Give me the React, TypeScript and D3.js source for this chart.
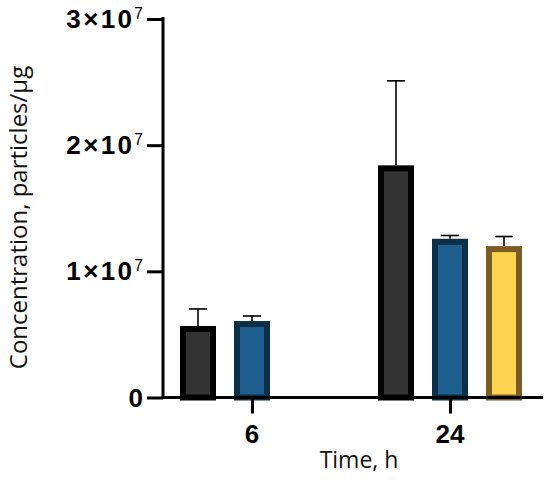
import * as d3 from "d3";
import { useEffect, useRef } from "react";

// time points (h)
const times = ["6", "24"];
const series = ["black", "blue", "yellow"];

// mean concentration, particles/µg (null = not measured)
const meanBlack = [5.67e6, 1.84e7];
const meanBlue = [6.06e6, 1.258e7];
const meanYellow: (number | null)[] = [null, 1.2e7];

// upper error (SD)
const sdBlack = [1.35e6, 6.7e6];
const sdBlue = [0.4e6, 0.26e6];
const sdYellow: (number | null)[] = [null, 0.76e6];

const yTicks = [0, 1e7, 2e7, 3e7];

const fills = ["#333333", "#1f5f8f", "#fdd352"];
const strokes = ["#000000", "#0b2f46", "#7a5c24"];

export default function App() {
  const svgRef = useRef<SVGSVGElement | null>(null);

  useEffect(() => {
    if (!svgRef.current) return;
    const svg = d3.select(svgRef.current);
    svg.selectAll("*").remove();

    const width = 550;
    const height = 483;
    svg.attr("width", width).attr("height", height);

    const left = 163;
    const right = 543;
    const bottom = 397.5;
    const top = 19;

    const y = d3.scaleLinear().domain([0, 3e7]).range([bottom, top]);
    const x = d3.scalePoint<string>().domain(times).range([252, 450]);
    const inner = d3
      .scaleBand<string>()
      .domain(series)
      .range([-81, 81])
      .paddingInner(1 / 3)
      .paddingOuter(1 / 6);

    const means = [meanBlack, meanBlue, meanYellow];
    const sds = [sdBlack, sdBlue, sdYellow];

    const rows: { t: string; s: number; v: number; sd: number }[] = [];
    times.forEach((t, ti) => {
      series.forEach((_, si) => {
        const v = means[si][ti];
        const sd = sds[si][ti];
        if (v != null) rows.push({ t, s: si, v, sd: sd ?? 0 });
      });
    });

    const bw = inner.bandwidth();
    const sw = 6;

    // error bars (behind the bars)
    const err = svg.append("g").attr("stroke", "#000").attr("stroke-width", 1.6);
    rows.forEach((r) => {
      const cx = x(r.t)! + inner(series[r.s])! + bw / 2;
      err.append("line")
        .attr("x1", cx).attr("x2", cx)
        .attr("y1", y(r.v)).attr("y2", y(r.v + r.sd));
      err.append("line")
        .attr("x1", cx - 9).attr("x2", cx + 9)
        .attr("y1", y(r.v + r.sd)).attr("y2", y(r.v + r.sd));
    });

    // bars
    svg.append("g")
      .selectAll("rect")
      .data(rows)
      .enter()
      .append("rect")
      .attr("x", (d) => x(d.t)! + inner(series[d.s])! + sw / 2)
      .attr("y", (d) => y(d.v) + sw / 2)
      .attr("width", bw - sw)
      .attr("height", (d) => bottom - y(d.v) - sw / 2)
      .attr("fill", (d) => fills[d.s])
      .attr("stroke", (d) => strokes[d.s])
      .attr("stroke-width", sw);

    // y axis
    const yAxis = svg.append("g")
      .attr("transform", `translate(${left},0)`)
      .call(d3.axisLeft(y).tickValues(yTicks).tickSize(16).tickSizeOuter(0).tickFormat(() => ""));
    yAxis.selectAll("path, line").attr("stroke", "#000").attr("stroke-width", 3);
    yAxis.select("path").attr("d", `M0,${top - 2}V${bottom + 1.5}`);

    const yl = svg.append("g")
      .attr("font-family", "Liberation Sans, Arial, sans-serif")
      .attr("font-weight", "bold")
      .attr("fill", "#000");
    yTicks.forEach((t) => {
      const ty = y(t);
      const label = yl.append("text")
        .attr("x", 143).attr("y", ty + 9)
        .attr("text-anchor", "end")
        .attr("font-size", 26);
      if (t === 0) {
        label.text("0");
        return;
      }
      const e = Math.round(Math.log10(t));
      const m = t / Math.pow(10, e);
      label.append("tspan").attr("letter-spacing", 2.4).text(`${m}×10`);
      label.append("tspan")
        .attr("dx", -0.4)
        .attr("dy", -9)
        .attr("font-size", 16)
        .attr("font-weight", "normal")
        .text(`${e}`);
    });

    // x axis
    const xAxis = svg.append("g")
      .attr("transform", `translate(0,${bottom})`)
      .call(d3.axisBottom(x).tickSize(16).tickSizeOuter(0).tickFormat(() => ""));
    xAxis.selectAll("path, line").attr("stroke", "#000").attr("stroke-width", 3);
    xAxis.select("path").attr("d", `M${left - 1.5},0H${right}`);

    svg.append("g")
      .attr("font-family", "Liberation Sans, Arial, sans-serif")
      .attr("font-weight", "bold")
      .attr("font-size", 26)
      .attr("text-anchor", "middle")
      .selectAll("text")
      .data(times)
      .enter()
      .append("text")
      .attr("x", (d) => x(d)!)
      .attr("y", 443)
      .text((d) => d);

    // axis titles
    svg.append("text")
      .attr("x", 359).attr("y", 468)
      .attr("text-anchor", "middle")
      .attr("font-family", "Open Sans, sans-serif")
      .attr("font-size", 23)
      .attr("fill", "#111")
      .text("Time, h");

    svg.append("text")
      .attr("transform", `translate(27,${(63 + 372) / 2}) rotate(-90)`)
      .attr("text-anchor", "middle")
      .attr("font-family", "Open Sans, sans-serif")
      .attr("font-size", 24)
      .attr("fill", "#111")
      .text("Concentration, particles/µg");
  }, []);

  return <svg ref={svgRef} style={{ position: "absolute", left: 0, top: 0 }} />;
}
